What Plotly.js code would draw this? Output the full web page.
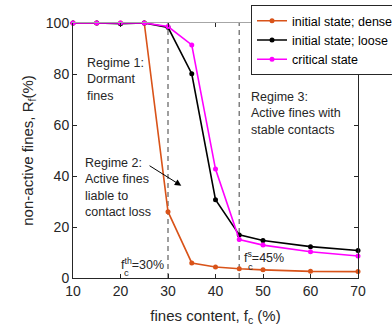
<!DOCTYPE html>
<html>
<head>
<meta charset="utf-8">
<script src="https://cdn.plot.ly/plotly-3.0.1.min.js"></script>
<style>html,body{margin:0;padding:0;background:#fff;overflow:hidden;}#wrap{width:392px;height:332px;overflow:hidden;}#chart{width:420px;height:332px;}</style>
</head>
<body>
<div id="wrap"><div id="chart"></div></div>
<script>
const finesContent = [10, 15, 20, 25, 30, 35, 40, 45, 50, 60, 70];
const denseValues = [100, 100, 100, 100, 26, 5.9, 4.3, 3.6, 3.2, 2.6, 2.5];
const looseValues = [100, 100, 99.7, 100, 98.3, 80.1, 30.7, 16.9, 14.7, 12.3, 10.8];
const criticalValues = [100, 100, 100, 100, 98.6, 91.4, 42.7, 15.1, 12.9, 10.3, 8.6];
const seriesNames = ['initial state; dense', 'initial state; loose', 'critical state'];
const thresholds = [30, 45];
const xTicks = [10, 20, 30, 40, 50, 60, 70];
const yTicks = [0, 20, 40, 60, 80, 100];

const FONT = 'Liberation Sans, Arial, sans-serif';
const AX = '#262626';

function series(name, y, color) {
  return {x: finesContent, y: y, name: name, type: 'scatter', mode: 'lines+markers',
    line: {color: color, width: 1.6}, marker: {color: color, size: 5}, cliponaxis: false};
}

const traces = [
  series(seriesNames[0], denseValues, '#D95319'),
  series(seriesNames[1], looseValues, '#000000'),
  series(seriesNames[2], criticalValues, '#FF00FF'),
  {x: [10], y: [0], xaxis: 'x2', type: 'scatter', mode: 'markers', marker: {opacity: 0}, showlegend: false, hoverinfo: 'skip'}
];

const shapes = thresholds.map(t => ({type: 'line', xref: 'x', yref: 'y', x0: t, x1: t, y0: 0, y1: 100,
  line: {color: '#808080', width: 1.5, dash: '5px,4px'}, layer: 'below'}));

const annFont = {family: FONT, size: 12.5, color: AX};
const subFont = {family: FONT, size: 9.5, color: AX};
const annotations = [
  {x: 12.6, y: 88, xref: 'x', yref: 'y', xanchor: 'left', yanchor: 'top', align: 'left', showarrow: false,
    text: 'Regime 1:<br>Dormant<br>fines', font: annFont},
  {x: 12.1, y: 48.6, xref: 'x', yref: 'y', xanchor: 'left', yanchor: 'top', align: 'left', showarrow: false,
    text: 'Regime 2:<br>Active fines<br>liable to<br>contact loss', font: annFont},
  {x: 47.0, y: 74.5, xref: 'x', yref: 'y', xanchor: 'left', yanchor: 'top', align: 'left', showarrow: false,
    text: 'Regime 3:<br>Active fines with<br>stable contacts', font: annFont},
  {x: 32.8, y: 36.2, ax: 25.8, ay: 44.4, xref: 'x', yref: 'y', axref: 'x', ayref: 'y', text: '',
    showarrow: true, arrowhead: 2, arrowsize: 1.3, arrowwidth: 1, arrowcolor: '#000'},
  {x: 29.6, y: 5.5, xref: 'x', yref: 'y', xanchor: 'right', yanchor: 'middle', showarrow: false,
    text: 'f<sup>th</sup>=30%', font: annFont},
  {x: 21.2, y: 2.2, xref: 'x', yref: 'y', xanchor: 'center', yanchor: 'middle', showarrow: false,
    text: 'c', font: subFont},
  {x: 45.6, y: 8.4, xref: 'x', yref: 'y', xanchor: 'left', yanchor: 'middle', showarrow: false,
    text: 'f<sup>s</sup>=45%', font: annFont},
  {x: 47.4, y: 4.6, xref: 'x', yref: 'y', xanchor: 'center', yanchor: 'middle', showarrow: false,
    text: 'c', font: subFont}
];

const layout = {
  width: 420, height: 332,
  margin: {l: 73, r: 62, t: 23, b: 54, autoexpand: false},
  paper_bgcolor: '#fff', plot_bgcolor: '#fff',
  font: {family: FONT, color: AX, size: 13},
  showlegend: true,
  legend: {x: 0.6246, y: 1.07, xanchor: 'left', yanchor: 'top', bgcolor: '#fff',
    bordercolor: AX, borderwidth: 1, font: {family: FONT, size: 12.5, color: '#000'},
    tracegroupgap: 0, itemwidth: 30},
  xaxis: {range: [10, 70], tickvals: xTicks, ticks: 'inside', ticklen: 4, tickcolor: AX,
    showline: true, linecolor: AX, linewidth: 1, mirror: false, zeroline: false, showgrid: false,
    tickfont: {family: FONT, size: 14, color: AX},
    title: {text: 'fines content, f<sub>c</sub> (%)', font: {family: FONT, size: 15, color: AX}, standoff: 12}},
  xaxis2: {range: [10, 70], overlaying: 'x', side: 'top', tickvals: xTicks, ticks: 'inside', ticklen: 4,
    tickcolor: AX, showline: true, linecolor: '#a6a6a6', linewidth: 1, showticklabels: false,
    zeroline: false, showgrid: false},
  yaxis: {range: [0, 100], tickvals: yTicks, ticks: 'inside', ticklen: 4, tickcolor: AX,
    showline: true, linecolor: AX, linewidth: 1, mirror: 'ticks', zeroline: false, showgrid: false,
    tickfont: {family: FONT, size: 14, color: AX},
    title: {text: 'non-active fines, R<sub>f</sub>(%)', font: {family: FONT, size: 15, color: AX}, standoff: 8}},
  shapes: shapes,
  annotations: annotations
};

Plotly.newPlot('chart', traces, layout, {displayModeBar: false, staticPlot: true});
</script>
</body>
</html>
